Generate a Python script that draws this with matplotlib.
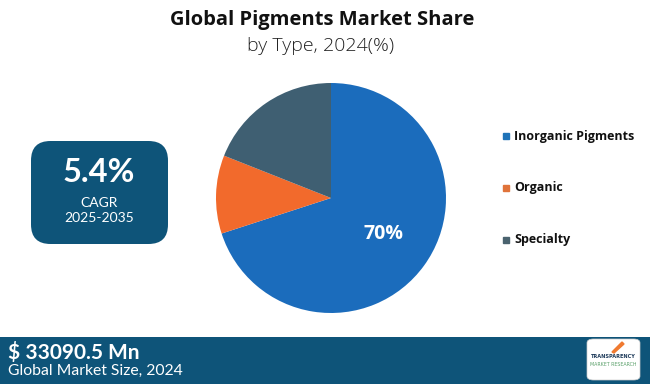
import matplotlib
matplotlib.use("Agg")
import matplotlib.pyplot as plt
from matplotlib.patches import FancyBboxPatch, Rectangle

categories = ["Inorganic Pigments", "Organic", "Specialty"]
shares = [70, 11, 19]
colors = ["#1b6cbc", "#f26a2c", "#3f5f72"]
legend_colors = ["#1f73b8", "#e0733a", "#4a636f"]
title = "Global Pigments Market Share"
subtitle = "by Type, 2024(%)"
cagr_value = "5.4%"
cagr_label = "CAGR"
cagr_period = "2025-2035"
market_value = "$ 33090.5 Mn"
market_label = "Global Market Size, 2024"

W, H = 650, 384
fig = plt.figure(figsize=(W / 100, H / 100), dpi=100)
fig.patch.set_facecolor("white")

def fx(x): return x / W
def fy(y): return 1 - y / H

# Title
fig.text(fx(322), fy(20), title, ha="center", va="center", fontsize=14.5,
         fontweight="bold", family="Open Sans", color="#111111")
fig.text(fx(321), fy(46), subtitle, ha="center", va="center", fontsize=14,
         fontweight="light", family="Open Sans", color="#222222")

# Pie
r = 115
cx, cy = 331, 198
ax = fig.add_axes([fx(cx - r), fy(cy + r), 2 * r / W, 2 * r / H])
wedges, _ = ax.pie(shares, colors=colors, startangle=90, counterclock=False,
                   wedgeprops=dict(linewidth=0))
ax.set_aspect("equal")
ax.set_xlim(-1, 1); ax.set_ylim(-1, 1)
ax.text(0.46, -0.31, f"{shares[0]}%", ha="center", va="center", color="white",
        fontsize=14, fontweight="bold", family="Open Sans")

# Legend
for i, (cat, col) in enumerate(zip(categories, legend_colors)):
    y = 136 + i * 52
    fig.patches.append(Rectangle((fx(503), fy(y + 3)), 6 / W, 6 / H,
                                 transform=fig.transFigure, color=col))
    fig.text(fx(514), fy(y), cat, ha="left", va="center", fontsize=9,
             fontweight="bold", family="Open Sans", color="#111111")

# CAGR box
box = FancyBboxPatch((fx(31), fy(244)), 137 / W, 103 / H,
                     boxstyle="round,pad=0,rounding_size=0.03",
                     transform=fig.transFigure, facecolor="#0e5479",
                     edgecolor="none", mutation_aspect=W / H)
fig.patches.append(box)
fig.text(fx(99), fy(173), cagr_value, ha="center", va="center", fontsize=23.5,
         fontweight="bold", family="Lato", color="white")
fig.text(fx(99), fy(203), cagr_label, ha="center", va="center", fontsize=10,
         family="Lato", color="white")
fig.text(fx(99), fy(218), cagr_period, ha="center", va="center", fontsize=10,
         family="Lato", color="white")

# Bottom banner
fig.patches.append(Rectangle((0, 0), 1, (H - 337) / H, transform=fig.transFigure,
                             facecolor="#0e5479", edgecolor="none"))
fig.text(fx(8), fy(353), market_value, ha="left", va="center", fontsize=15,
         fontweight="bold", family="Lato", color="white")
fig.text(fx(8), fy(371), market_label, ha="left", va="center", fontsize=11.3,
         family="Lato", color="white")

# Logo
logo = FancyBboxPatch((fx(587), fy(380)), 53 / W, 41 / H,
                      boxstyle="round,pad=0,rounding_size=0.01",
                      transform=fig.transFigure, facecolor="white",
                      edgecolor="#cccccc", linewidth=0.5)
fig.patches.append(logo)
fig.text(fx(613.5), fy(357), "TRANSPARENCY", ha="center", va="center",
         fontsize=3.6, fontweight="bold", color="#1d3a5a")
fig.text(fx(613.5), fy(364), "MARKET RESEARCH", ha="center", va="center",
         fontsize=3.4, color="#5aa06a")
fig.patches.append(plt.Polygon([[fx(612), fy(352)], [fx(622), fy(342)], [fx(624), fy(344)], [fx(614), fy(353)]],
                               closed=True, transform=fig.transFigure, color="#f07a30"))

fig.savefig("out.png", dpi=100, facecolor="white")
